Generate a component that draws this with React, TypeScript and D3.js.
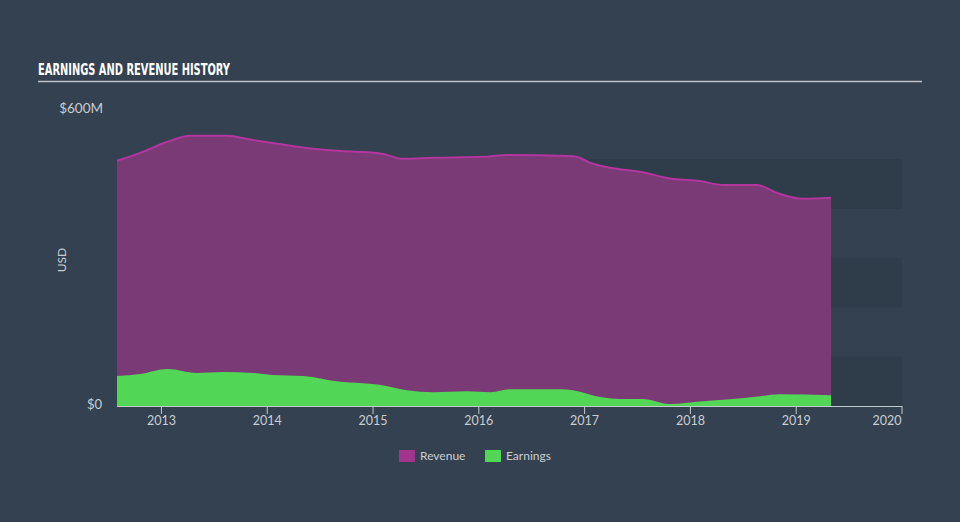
import React from 'react';
import * as d3 from 'd3';

// decimal year, value in $M
const revenueDates = [2012.58, 2012.8, 2013.05, 2013.27, 2013.62, 2013.84, 2014.05, 2014.37, 2014.69, 2015.04, 2015.13, 2015.28, 2015.57, 2016.04, 2016.27, 2016.84, 2016.93, 2017.05, 2017.24, 2017.52, 2017.84, 2018.09, 2018.31, 2018.63, 2018.82, 2019.06, 2019.33];
const revenueValues = [497, 513, 535, 548, 548, 540, 533, 523, 517, 513, 509, 501, 503, 505, 509, 507, 505, 493, 483, 475, 460, 456, 448, 448, 432, 420, 422];

const earningsDates = [2012.58, 2012.8, 2013.06, 2013.33, 2013.58, 2013.87, 2014.05, 2014.34, 2014.69, 2015.06, 2015.32, 2015.57, 2015.89, 2016.11, 2016.29, 2016.77, 2016.89, 2017.11, 2017.4, 2017.55, 2017.8, 2018.15, 2018.4, 2018.66, 2018.84, 2019.33];
const earningsValues = [61, 65, 75, 67, 69, 67, 63, 61, 49, 43, 32, 28, 30, 28, 34, 34, 32, 20, 14, 14, 4, 10, 14, 20, 24, 22];

const yearTicks = [2013, 2014, 2015, 2016, 2017, 2018, 2019, 2020];
const bandStarts = [0, 200, 400];

const W = 960;
const H = 522;
const BG = '#334150';
const TEXT = '#c9ced3';
const FONT = "Lato, 'Open Sans', sans-serif";

type Pt = { t: number; v: number };

export default function App() {
  const x = d3.scaleLinear().domain([2012.58, 2020]).range([117, 902]);
  const y = d3.scaleLinear().domain([0, 600]).range([406, 110]);

  const rev: Pt[] = revenueDates.map((t, i) => ({ t, v: revenueValues[i] }));
  const earn: Pt[] = earningsDates.map((t, i) => ({ t, v: earningsValues[i] }));

  const area = d3.area<Pt>().x(d => x(d.t)).y0(y(0)).y1(d => y(d.v)).curve(d3.curveMonotoneX);
  const line = d3.line<Pt>().x(d => x(d.t)).y(d => y(d.v)).curve(d3.curveMonotoneX);

  const legend = [
    { label: 'Revenue', color: '#a1348f', x: 399 },
    { label: 'Earnings', color: '#52d655', x: 485 },
  ];

  return (
    <svg width={W} height={H} style={{ position: 'absolute', left: 0, top: 0, background: BG }}>
      <rect width={W} height={H} fill={BG} />
      <text x={38} y={75} fill="#ffffff" fontFamily="'DejaVu Sans Condensed', 'Liberation Sans Narrow', sans-serif" fontWeight="bold" fontSize={16} textLength={192} lengthAdjust="spacingAndGlyphs">
        EARNINGS AND REVENUE HISTORY
      </text>
      <line x1={38} x2={922} y1={81.5} y2={81.5} stroke="#bfc4c9" strokeWidth={1.5} />

      {bandStarts.map(b => (
        <rect key={b} x={x(2012.58)} width={x(2020) - x(2012.58)} y={y(b + 100)} height={y(b) - y(b + 100)} fill="#2f3c4a" />
      ))}

      <path d={area(rev) ?? ''} fill="#7a3a75" />
      <path d={line(rev) ?? ''} fill="none" stroke="#b2369e" strokeWidth={2} />
      <path d={area(earn) ?? ''} fill="#52d655" />

      <line x1={x(2012.58)} x2={x(2020)} y1={y(0) + 0.5} y2={y(0) + 0.5} stroke="#c3c8cd" strokeWidth={1} />
      {yearTicks.map(t => (
        <g key={t}>
          <line x1={x(t)} x2={x(t)} y1={y(0)} y2={y(0) + 8} stroke="#c3c8cd" strokeWidth={1} />
          <text x={t === 2020 ? x(t) - 15 : x(t)} y={y(0) + 19} textAnchor="middle" fill={TEXT} fontFamily={FONT} fontSize={12.5}>
            {t}
          </text>
        </g>
      ))}

      <text x={103} y={113} textAnchor="end" fill={TEXT} fontFamily={FONT} fontSize={13.5}>$600M</text>
      <text x={102} y={409} textAnchor="end" fill={TEXT} fontFamily={FONT} fontSize={13}>$0</text>
      <text transform="translate(66,260) rotate(-90)" textAnchor="middle" fill={TEXT} fontFamily={FONT} fontSize={12}>USD</text>

      {legend.map(l => (
        <g key={l.label}>
          <rect x={l.x} y={450} width={16} height={12} fill={l.color} />
          <text x={l.x + 21} y={460} fill={TEXT} fontFamily={FONT} fontSize={12}>{l.label}</text>
        </g>
      ))}
    </svg>
  );
}
